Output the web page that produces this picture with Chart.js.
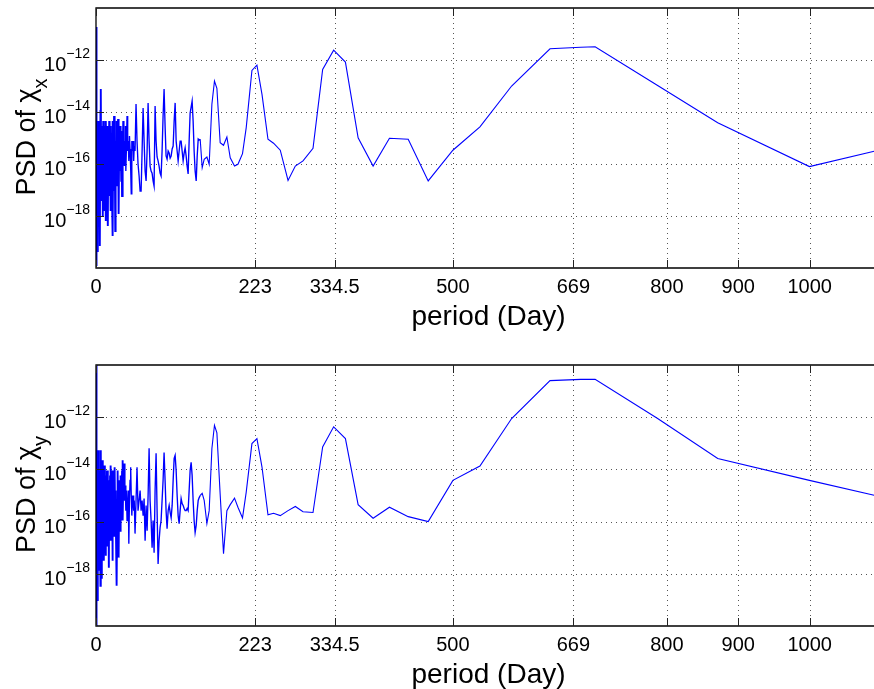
<!DOCTYPE html>
<html>
<head>
<meta charset="utf-8">
<script src="https://cdn.jsdelivr.net/npm/chart.js@4.4.1/dist/chart.umd.min.js"></script>
<style>
  html, body { margin: 0; padding: 0; background: #fff; overflow: hidden; }
  #wrap { position: relative; width: 874px; height: 689px; overflow: hidden; background: #fff; }
  canvas { position: absolute; left: 0; }
  #c1 { top: 0; }
  #c2 { top: 357px; }
</style>
</head>
<body>
<div id="wrap">
  <canvas id="c1" width="881" height="344"></canvas>
  <canvas id="c2" width="881" height="332"></canvas>
</div>
<script>
// ---- data ----
// period in days (x), shared by both panels
const period = [
  0, 0.4, 1.1, 1.7, 2.2, 2.8, 3.4, 3.9, 4.5, 5.1, 5.6, 6.2, 6.7, 7.3, 7.9, 8.4, 9.0, 9.5, 10.1, 10.7,
  11.2, 11.8, 12.4, 12.9, 13.5, 14.0, 14.6, 15.2, 15.7, 16.3, 16.8, 17.4, 18.0, 18.5, 19.1, 19.7, 20.2, 20.8,
  21.3, 21.9, 22.5, 23.0, 23.6, 24.1, 24.7, 25.3, 25.8, 26.4, 27.0, 27.5, 28.1, 28.6, 29.2, 29.8, 30.3, 30.9,
  31.4, 32.0, 32.6, 33.1, 33.7, 34.2, 34.8, 35.4, 35.9, 36.5, 37.1, 37.6, 38.2, 38.7, 39.3,
  40.1, 41.0, 41.8, 42.7, 43.5, 44.4, 45.2, 46.0, 46.9, 47.7, 48.6, 49.4, 50.2, 51.1, 51.9, 52.8, 53.6,
  54.7, 56.1, 57.5, 58.9, 60.4, 61.8, 63.2, 64.6, 66.0, 67.4, 68.8, 70.2, 71.6, 73.0, 74.4, 75.8, 77.2, 78.6,
  80.0, 81.4, 82.8, 84.2, 85.6, 87.0, 88.4, 89.8, 91.2, 92.6, 94.0, 95.4, 96.8, 98.2, 99.6, 101.1, 102.5,
  103.9, 105.3, 106.7, 108.1, 109.5, 110.9, 112.3, 113.7, 115.1, 116.5, 117.9, 119.3, 120.7, 122.1, 123.5,
  124.9, 126.3, 127.7, 129.1, 130.5, 131.9, 133.3, 134.7, 136.1, 137.5, 138.9, 140.4, 141.8, 143.2, 144.6,
  146.0, 148.8, 151.6, 155.4, 158.6, 162.4, 166.0, 169.4, 174.0, 178.7, 183.4, 188.1, 194.1, 198.9, 205.3,
  210.5, 218.5, 225.5, 232.6, 241.0, 248.8, 258.2, 269.1, 279.3, 290.1, 304.1, 317.6, 333.0, 349.5, 367.3,
  388.3, 411.2, 437.5, 465.5, 500.1, 538.0, 582.4, 636.2, 679.3, 699.4, 787.0, 871.2, 999.7, 1091.9
];

// log10 of PSD of chi_x (upper panel)
const log10PsdX = [
  -10.73, -19.92, -17.42, -19.35, -15.50, -18.38, -14.35, -17.04, -15.12, -17.62,
  -19.15, -13.96, -13.12, -16.65, -14.54, -17.42, -14.73, -18.00, -14.35, -16.46,
  -17.81, -14.54, -17.04, -14.92, -18.19, -14.35, -16.27, -17.42, -14.54, -16.85,
  -18.38, -14.73, -16.46, -14.35, -17.23, -14.92, -17.81, -14.54, -16.65, -15.12,
  -17.42, -14.35, -18.77, -15.31, -16.46, -14.15, -17.04, -14.73, -18.58, -15.12,
  -16.08, -14.35, -16.85, -14.92, -15.88, -14.27, -16.46, -17.92, -14.92, -15.50,
  -14.54, -16.27, -15.12, -16.65, -14.73, -17.23, -15.31, -15.69, -14.35, -15.88,
  -15.12,
  -16.08, -14.54, -16.27, -15.31, -14.15, -15.50, -15.12, -15.88, -14.92, -15.42,
  -16.19, -17.15, -15.12, -15.50, -15.12, -15.88, -15.31,
  -15.50, -13.69, -15.12, -16.00, -16.46, -17.04, -17.04, -15.50, -13.85, -15.12,
  -16.27, -16.65, -15.50, -13.65, -15.12, -16.08, -16.27, -16.35, -16.65, -16.85,
  -13.77, -15.12, -15.73, -15.88, -16.08, -16.35, -16.46, -15.50, -14.15, -13.12,
  -14.54, -15.69, -15.81, -15.50, -15.58, -15.77, -15.69, -15.42, -15.31, -14.35,
  -13.65, -15.12, -15.50, -15.88, -15.50, -15.12, -15.12, -15.50, -15.88, -15.58,
  -15.38, -15.69, -16.08, -16.38, -15.12, -14.04, -13.81, -13.58, -14.35, -15.50,
  -16.27, -16.65, -15.69, -15.04, -15.08,
  -15.05, -16.14, -15.82, -15.73, -16.01, -13.70, -12.81, -13.09, -15.18, -15.28,
  -14.96, -15.76, -16.08, -16.01, -15.60, -14.60, -12.40, -12.20, -13.32, -15.05,
  -15.20, -15.47, -16.63, -16.08, -15.88, -15.40, -12.36, -11.62, -12.08, -14.99,
  -16.08, -15.01, -15.05, -16.65, -15.47, -14.57, -13.00, -11.57, -11.51, -11.49,
  -12.98, -14.41, -16.10, -15.50
];

// log10 of PSD of chi_y (lower panel)
const log10PsdY = [
  -9.62, -20.77, -17.50, -13.65, -19.04, -15.19, -13.27, -17.88, -14.42, -16.35,
  -14.04, -18.46, -13.27, -18.15, -14.04, -16.73, -13.65, -17.50, -14.42, -16.92,
  -17.50, -13.85, -16.35, -14.23, -17.31, -14.42, -15.96, -14.04, -16.92, -14.04,
  -15.96, -14.42, -17.77, -14.81, -16.35, -14.23, -16.73, -13.85, -15.58, -16.73,
  -14.04, -17.50, -14.35, -15.96, -14.04, -16.54, -14.42, -13.92, -16.35, -14.81,
  -16.73, -15.19, -18.46, -15.19, -14.04, -15.96, -14.81, -17.38, -14.42, -15.19,
  -16.35, -14.23, -15.58, -14.81, -15.96, -14.04, -13.65, -15.96, -14.42, -15.19,
  -13.77,
  -15.19, -14.62, -15.58, -14.81, -15.96, -15.38, -14.81, -16.85, -15.19, -14.42,
  -13.92, -15.00, -15.77, -15.19, -15.00, -15.58, -15.19,
  -16.46, -15.19, -13.92, -15.58, -15.19, -14.81, -15.58, -15.19, -15.77, -15.12,
  -16.73, -15.38, -16.35, -15.00, -13.19, -15.19, -15.96, -17.00, -15.96, -17.19,
  -14.81, -13.38, -15.58, -17.62, -16.73, -16.23, -15.96, -15.19, -14.42, -13.35,
  -14.42, -15.58, -16.27, -15.58, -15.38, -15.65, -15.85, -15.38, -14.42, -13.58,
  -13.46, -14.04, -15.00, -15.77, -16.08, -15.58, -15.12, -15.31, -15.38, -15.50,
  -15.58, -15.58, -15.50, -15.58, -14.81, -14.04, -13.73, -14.23, -15.19, -15.96,
  -16.42, -16.15, -15.58, -15.19, -15.08,
  -15.00, -14.92, -15.19, -16.07, -15.58, -13.20, -12.31, -12.60, -14.96, -17.23,
  -15.58, -15.35, -15.10, -15.45, -15.86, -14.87, -13.01, -12.82, -13.91, -15.74,
  -15.68, -15.77, -15.58, -15.42, -15.62, -15.65, -13.14, -12.37, -12.82, -15.35,
  -15.87, -15.45, -15.81, -16.00, -14.42, -13.87, -12.05, -10.60, -10.55, -10.55,
  -12.05, -13.58, -14.42, -15.00
];

const xTickValues = [0, 223, 334.5, 500, 669, 800, 900, 1000];
const xTickLabels = ['0', '223', '334.5', '500', '669', '800', '900', '1000'];
const yTickExponents = [-12, -14, -16, -18];
const xTitle = 'period (Day)';

// ---- drawing ----
const FONT = '"Liberation Sans", Arial, Helvetica, sans-serif';

const axesPlugin = {
  id: 'matlabAxes',
  beforeDatasetsDraw(chart) {
    const ctx = chart.ctx, a = chart.chartArea;
    const xs = chart.scales.x, ys = chart.scales.y;
    ctx.save();
    ctx.strokeStyle = '#555';
    ctx.lineWidth = 1;
    ctx.setLineDash([1, 4]);
    xTickValues.forEach(v => {
      if (v <= 0) return;
      const x = Math.round(xs.getPixelForValue(v)) + 0.5;
      ctx.beginPath(); ctx.moveTo(x, a.top); ctx.lineTo(x, a.bottom); ctx.stroke();
    });
    yTickExponents.forEach(e => {
      const y = Math.round(ys.getPixelForValue(Math.pow(10, e))) + 0.5;
      ctx.beginPath(); ctx.moveTo(a.left, y); ctx.lineTo(a.right, y); ctx.stroke();
    });
    ctx.restore();
  },
  afterDraw(chart) {
    const ctx = chart.ctx, a = chart.chartArea;
    const xs = chart.scales.x, ys = chart.scales.y;
    const o = chart.options.plugins.matlabAxes;
    ctx.save();
    // frame
    ctx.strokeStyle = '#000';
    ctx.lineWidth = 1.3;
    ctx.beginPath();
    ctx.moveTo(a.right, a.top); ctx.lineTo(a.left, a.top);
    ctx.lineTo(a.left, a.bottom); ctx.lineTo(a.right, a.bottom);
    ctx.stroke();
    // tick marks (inward)
    ctx.lineWidth = 1;
    ctx.strokeStyle = '#222';
    xTickValues.forEach(v => {
      const x = Math.round(xs.getPixelForValue(v)) + 0.5;
      ctx.beginPath();
      ctx.moveTo(x, a.bottom); ctx.lineTo(x, a.bottom - 8);
      ctx.moveTo(x, a.top); ctx.lineTo(x, a.top + 8);
      ctx.stroke();
    });
    yTickExponents.forEach(e => {
      const y = Math.round(ys.getPixelForValue(Math.pow(10, e))) + 0.5;
      ctx.beginPath(); ctx.moveTo(a.left, y); ctx.lineTo(a.left + 8, y); ctx.stroke();
    });
    // x tick labels
    ctx.fillStyle = '#000';
    ctx.font = '20px ' + FONT;
    ctx.textAlign = 'center';
    ctx.textBaseline = 'alphabetic';
    xTickValues.forEach((v, i) => {
      ctx.fillText(xTickLabels[i], xs.getPixelForValue(v), a.bottom + 25);
    });
    // y tick labels 10^e
    ctx.textAlign = 'left';
    yTickExponents.forEach(e => {
      const y = ys.getPixelForValue(Math.pow(10, e));
      const sup = '\u2212' + String(-e);
      ctx.font = '14px ' + FONT;
      const supW = ctx.measureText(sup).width;
      ctx.font = '20px ' + FONT;
      const tenW = ctx.measureText('10').width;
      const supX = a.left - 6 - supW;
      ctx.fillText('10', supX - tenW, y + 11);
      ctx.font = '14px ' + FONT;
      ctx.fillText(sup, supX, y - 2);
    });
    // x title
    ctx.font = '28px ' + FONT;
    ctx.textAlign = 'center';
    ctx.fillText(xTitle, (a.left + a.right) / 2, a.bottom + 57);
    // y title with subscript
    const main = 'PSD of \u03C7';
    ctx.font = '27px ' + FONT;
    const mainW = ctx.measureText(main).width;
    ctx.font = '20px ' + FONT;
    const subW = ctx.measureText(o.sub).width;
    const total = mainW + subW;
    const cy = (a.top + a.bottom) / 2 - 1;
    ctx.translate(35, cy);
    ctx.rotate(-Math.PI / 2);
    ctx.textAlign = 'left';
    ctx.font = '27px ' + FONT;
    ctx.fillText(main, -total / 2, 0);
    ctx.font = '20px ' + FONT;
    ctx.fillText(o.sub, -total / 2 + mainW, 12);
    ctx.restore();
  }
};

function makeChart(id, logVals, sub, plotH) {
  const canvas = document.getElementById(id);
  const H = canvas.height;
  const pts = period.map((p, i) => ({ x: p, y: Math.pow(10, logVals[i]) }));
  return new Chart(canvas, {
    type: 'line',
    data: {
      datasets: [{
        data: pts,
        borderColor: 'rgb(0,0,255)',
        borderWidth: 1.1,
        pointRadius: 0,
        tension: 0,
        fill: false,
        segment: {
          borderWidth: c => (c.p0.parsed.x < 40 ? 1.9 : (c.p0.parsed.x < 146 ? 1.35 : 1.1))
        }
      }]
    },
    options: {
      responsive: false,
      animation: false,
      devicePixelRatio: 1,
      layout: { padding: { top: 8, left: 0, right: 0, bottom: 0 } },
      plugins: {
        legend: { display: false },
        tooltip: { enabled: false },
        matlabAxes: { sub: sub }
      },
      scales: {
        x: {
          type: 'linear',
          min: 0,
          max: 1100,
          grid: { display: false, drawTicks: false },
          border: { display: false },
          ticks: { display: false },
          afterBuildTicks: s => { s.ticks = xTickValues.map(v => ({ value: v })); },
          afterFit: s => { s.height = H - 8 - plotH; }
        },
        y: {
          type: 'logarithmic',
          min: 1e-20,
          max: 1e-10,
          grid: { display: false, drawTicks: false },
          border: { display: false },
          ticks: { display: false },
          afterFit: s => { s.width = 96; }
        }
      }
    },
    plugins: [axesPlugin]
  });
}

makeChart('c1', log10PsdX, 'x', 260);
makeChart('c2', log10PsdY, 'y', 261);
</script>
</body>
</html>
